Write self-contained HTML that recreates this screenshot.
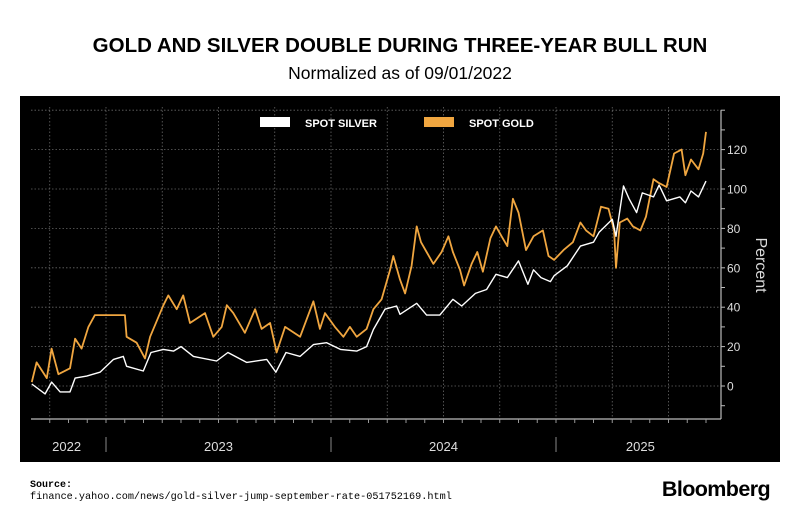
<!DOCTYPE html>
<html><head><meta charset="utf-8"><style>
body{margin:0;width:800px;height:520px;background:#fff;font-family:"Liberation Sans",sans-serif;overflow:hidden}
</style></head><body>
<svg width="800" height="520">
<text x="400" y="52" text-anchor="middle" font-size="20.5" font-weight="bold" fill="#000">GOLD AND SILVER DOUBLE DURING THREE-YEAR BULL RUN</text>
<text x="400" y="79" text-anchor="middle" font-size="17.5" fill="#000">Normalized as of 09/01/2022</text>
<rect x="20" y="96" width="760" height="366" fill="#000"/>
<g id="grid"></g>
<g id="axes"></g>
<g id="series"></g>
<rect x="260" y="117" width="30" height="10" fill="#fff"/>
<text x="305" y="127" font-size="11" font-weight="bold" fill="#fff">SPOT SILVER</text>
<rect x="424" y="117" width="30" height="10" fill="#f0a640"/>
<text x="469" y="127" font-size="11" font-weight="bold" fill="#fff">SPOT GOLD</text>
<text transform="translate(756,265) rotate(90)" text-anchor="middle" font-size="16" fill="#ddd">Percent</text>
<text x="30" y="487" font-family="Liberation Mono,monospace" font-size="10" font-weight="bold" fill="#000">Source:</text>
<text x="30" y="499" font-family="Liberation Mono,monospace" font-size="10.2" fill="#000">finance.yahoo.com/news/gold-silver-jump-september-rate-051752169.html</text>
<text x="770" y="496" text-anchor="end" font-size="21.5" font-weight="bold" fill="#000" letter-spacing="-0.6">Bloomberg</text>
</svg>
<script>
const goldMonths=[0.04,0.3,0.84,1.1,1.46,2.08,2.35,2.7,3.06,3.41,4.03,5.01,5.1,5.63,6.08,6.35,7.06,7.32,7.77,8.12,8.48,9.28,9.72,10.17,10.44,10.79,11.41,11.95,12.3,12.75,13.1,13.55,14.35,15.06,15.41,15.68,16.21,16.66,17.01,17.37,17.9,18.26,18.7,19.15,19.32,19.68,19.95,20.3,20.57,20.8,21.1,21.46,21.9,22.26,22.5,22.88,23.1,23.5,23.8,24.1,24.5,24.8,25.1,25.4,25.7,26.0,26.4,26.8,27.3,27.6,27.9,28.4,28.9,29.3,29.6,30.0,30.4,30.8,31.1,31.2,31.4,31.8,32.1,32.5,32.8,33.2,33.5,33.9,34.3,34.7,34.9,35.2,35.6,35.85,36.0];
const goldValues=[2,12,4,19,6,9,24,19,30,36,36,36,25,22,14,25,41,46,39,46,32,37,25,30,41,37,27,39,29,32,17,30,25,43,29,37,30,25,30,25,29,39,44,59,66,54,47,61,81,73,68,62,68,76,68,59,51,62,68,58,75,81,76,71,95,88,69,76,79,66,64,69,73,83,79,76,91,90,79,60,83,85,81,79,86,105,103,101,118,120,107,115,110,118,129];
const silverMonths=[0.04,0.75,1.1,1.55,2.08,2.35,2.97,3.68,4.4,4.92,5.1,5.99,6.4,7.06,7.6,8.0,8.66,9.9,10.5,11.5,12.57,13.06,13.6,14.35,15.06,15.77,16.5,17.37,17.9,18.26,18.88,19.5,19.68,20.57,21.1,21.8,22.5,22.97,23.7,24.3,24.8,25.4,26.0,26.5,26.8,27.2,27.7,27.9,28.6,29.3,30.0,30.3,31.0,31.2,31.6,31.9,32.3,32.6,33.2,33.5,33.9,34.6,34.9,35.2,35.6,36.0];
const silverValues=[1,-4,2,-3,-3,4,5,7,13.5,15,10,7.6,17,18.6,17.7,20,15,12.7,17,12,13.5,7,17,15,21,22,18.6,17.7,20,28.7,39,40.6,36.4,42,36,36,44,40.6,47,49,56.7,55,63.5,51.6,59,55,53,56,61,71,73,78,84.6,76,101.5,95,88,98,96,102,94,96,93,99,96,104];
const yTicks=[0,20,40,60,80,100,120];
const yearLabels=["2022","2023","2024","2025"];
const yearLabelMonths=[1.9,10,22,32.5];
const yearSepMonths=[4,16,28];

const NS="http://www.w3.org/2000/svg";
const X=m=>31+m*18.75;
const Y=v=>386-v*1.97;
function mk(tag,attrs,parent){const e=document.createElementNS(NS,tag);for(const k in attrs)e.setAttribute(k,attrs[k]);document.getElementById(parent).appendChild(e);return e;}
for(let v=0;v<=140;v+=20){const l=mk('line',{x1:31,x2:721,y1:Y(v),y2:Y(v),stroke:'#666','stroke-width':0.8,'stroke-dasharray':'1.5,2'},'grid');

}
for(let m=1;m<=36;m+=3){const l=mk('line',{x1:X(m),x2:X(m),y1:107,y2:419,stroke:'#666','stroke-width':0.8,'stroke-dasharray':'1.5,2'},'grid');

}
let ax=mk('line',{x1:31,x2:721,y1:419,y2:419,stroke:'#bbb','stroke-width':1.2},'axes');


for(let m=1;m<=36;m++){const t=mk('line',{x1:X(m),x2:X(m),y1:419,y2:423,stroke:'#999','stroke-width':1},'axes');

}
yearSepMonths.forEach(m=>{const s=mk('line',{x1:X(m),x2:X(m),y1:437,y2:452,stroke:'#888','stroke-width':1},'axes');

});
yearLabels.forEach((y,i)=>{const t=mk('text',{x:X(yearLabelMonths[i]),y:451,'text-anchor':'middle','font-size':13,fill:'#ddd'},'axes');t.textContent=y;

});
let ya=mk('line',{x1:721,x2:721,y1:Y(140),y2:419,stroke:'#bbb','stroke-width':1.2},'axes');


for(let v=-10;v<=140;v+=10){const t=mk('line',{x1:721,x2:725,y1:Y(v),y2:Y(v),stroke:'#bbb','stroke-width':1},'axes');

}
yTicks.forEach(v=>{const t=mk('text',{x:727,y:Y(v)+4.5,'font-size':12,fill:'#ddd'},'axes');t.textContent=v;

});
function line(ms,vs,color,w,name){const d=ms.map((m,i)=>(i?'L':'M')+X(m).toFixed(1)+','+Y(vs[i]).toFixed(1)).join('');
const p=mk('path',{d:d,fill:'none',stroke:color,'stroke-width':w,'stroke-linejoin':'round'},'series');

}
line(goldMonths,goldValues,'#f0a640',1.8,'gold-line');
line(silverMonths,silverValues,'#fff',1.4,'silver-line');
</script>
</body></html>
